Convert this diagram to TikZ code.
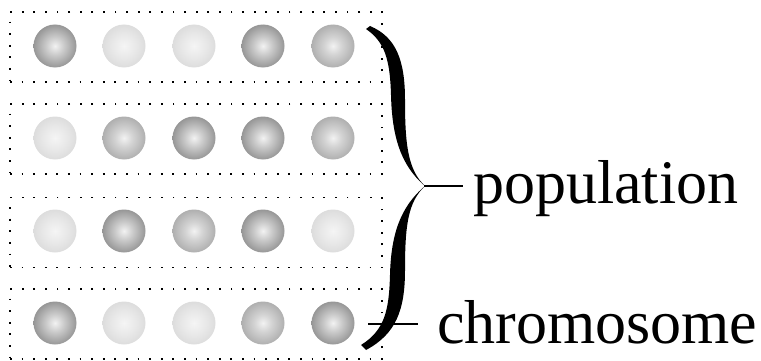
\documentclass[tikz,border=0pt]{standalone}
\usepackage{xcolor}
\usepackage{fontspec}
\setmainfont{Liberation Serif}
\usepackage{tikz}

% shaded beads for the genes
\pgfdeclareradialshading{darkbead}{\pgfpoint{0bp}{0bp}}{color(0bp)=(black!5); color(10bp)=(black!20); color(30bp)=(black!48); color(42bp)=(black!72); color(50bp)=(black!86); color(100bp)=(black!86)}
\pgfdeclareradialshading{midbead}{\pgfpoint{0bp}{0bp}}{color(0bp)=(black!5); color(10bp)=(black!17); color(30bp)=(black!36); color(42bp)=(black!52); color(50bp)=(black!62); color(100bp)=(black!62)}
\pgfdeclareradialshading{lightbead}{\pgfpoint{0bp}{0bp}}{color(0bp)=(black!4); color(14bp)=(black!9); color(36bp)=(black!18); color(46bp)=(black!28); color(50bp)=(black!32); color(100bp)=(black!32)}

\tikzset{
	bead/.style={circle, inner sep=0pt, minimum size=43bp},
	darkgene/.style={bead, shading=darkbead},
	midgene/.style={bead, shading=midbead},
	lightgene/.style={bead, shading=lightbead},
	chromrow/.style={draw, line width=1.8bp, dash pattern=on 1.8bp off 9.8bp,
		minimum width=372bp, minimum height=70bp, inner sep=0pt},
	label/.style={font=\fontsize{62bp}{70bp}\selectfont, inner sep=0pt, anchor=base west}
}

\begin{document}
\begin{tikzpicture}[x=1bp,y=1bp]
	\useasboundingbox (0,0) rectangle (761,360);

	% the four chromosomes
	\path (196,313) node[chromrow] (row1) {};
	\path (196,221) node[chromrow] (row2) {};
	\path (196,127.5) node[chromrow] (row3) {};
	\path (196,36) node[chromrow] (row4) {};

	\path (55,314) node[darkgene] (g11) {};
	\path (124,314) node[lightgene] (g12) {};
	\path (194,314) node[lightgene] (g13) {};
	\path (263,314) node[darkgene] (g14) {};
	\path (333,314) node[midgene] (g15) {};

	\path (55,222) node[lightgene] (g21) {};
	\path (124,222) node[midgene] (g22) {};
	\path (194,222) node[darkgene] (g23) {};
	\path (263,222) node[darkgene] (g24) {};
	\path (333,222) node[midgene] (g25) {};

	\path (55,129) node[lightgene] (g31) {};
	\path (124,129) node[darkgene] (g32) {};
	\path (194,129) node[midgene] (g33) {};
	\path (263,129) node[darkgene] (g34) {};
	\path (333,129) node[lightgene] (g35) {};

	\path (55,37) node[darkgene] (g41) {};
	\path (124,37) node[lightgene] (g42) {};
	\path (194,37) node[lightgene] (g43) {};
	\path (263,37) node[midgene] (g44) {};
	\path (333,37) node[darkgene] (g45) {};

	% the brace round the population
	\fill (366,331) .. controls (385,318) and (390,300) .. (391,265)
		.. controls (392,225) and (400,195) .. (425,174)
		.. controls (408,190) and (405,215) .. (405,260)
		.. controls (405,300) and (396,323) .. (370,334) -- cycle;
	\fill (425,174) .. controls (400,153) and (391,125) .. (390,85)
		.. controls (389,50) and (385,30) .. (361,15)
		-- (366,10) .. controls (396,26) and (405,50) .. (405,90)
		.. controls (405,135) and (408,158) .. (425,174) -- cycle;
	\coordinate (tip) at (424,174);
	\coordinate (tick) at (368,36);

	\path (473,157) node[label] (population) {population};
	\path (437,17) node[label] (chromosome) {chromosome};

	\draw[line width=2bp] (tip) -- ([xshift=-10bp]tip -| population.west);
	\draw[line width=2bp] (tick) -- ([xshift=-19bp]tick -| chromosome.west);
\end{tikzpicture}
\end{document}
